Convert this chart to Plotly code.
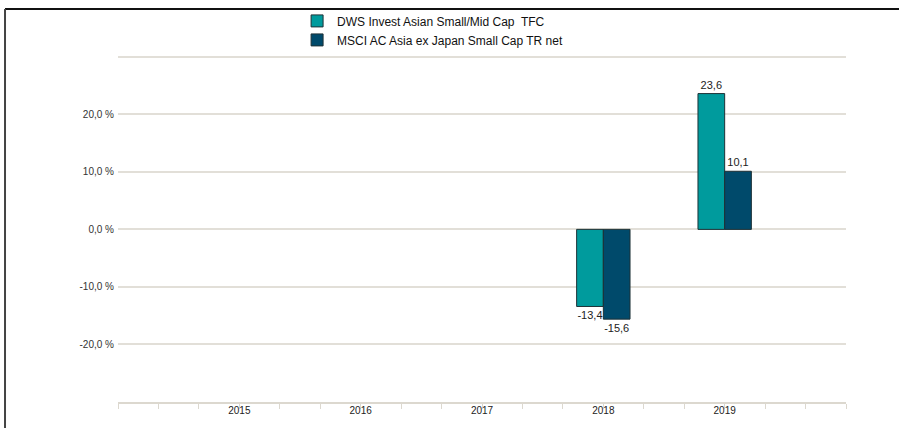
import plotly.graph_objects as go

years = ["2015", "2016", "2017", "2018", "2019"]
year_pos = [0, 1, 2, 3, 4]
series_names = ["DWS Invest Asian Small/Mid Cap  TFC", "MSCI AC Asia ex Japan Small Cap TR net"]
dws_values = [None, None, None, -13.4, 23.6]
msci_values = [None, None, None, -15.6, 10.1]
y_ticks = [-30, -20, -10, 0, 10, 20, 30]
y_ticktext = ["", "-20,0 %", "-10,0 %", "0,0 %", "10,0 %", "20,0 %", ""]

colors = ["#009b9d", "#004a6b"]
outline = "#1e3136"

def fmt(v):
    return "" if v is None else f"{v:.1f}".replace(".", ",")

fig = go.Figure()
for name, vals, col in zip(series_names, [dws_values, msci_values], colors):
    fig.add_trace(go.Bar(
        x=year_pos, y=vals, name=name,
        marker=dict(color=col, line=dict(color=outline, width=1)),
        text=[fmt(v) for v in vals], textposition="outside",
        textfont=dict(family="Liberation Sans, Arial", size=11, color="#222222"),
        cliponaxis=False,
    ))

# plot area: 30 % at y=57, -30 % at y=402 (5.75 px per unit)
fig.update_layout(
    width=899, height=428,
    margin=dict(l=118, r=53, t=51, b=26, autoexpand=False),
    paper_bgcolor="white", plot_bgcolor="white",
    barmode="group", bargap=0.56, bargroupgap=0,
    font=dict(family="Liberation Sans, Arial", size=11, color="#333333"),
    showlegend=True,
    legend=dict(x=0.246, y=0.985, xanchor="left", yanchor="top", yref="container",
                font=dict(size=12, color="#111111"), bgcolor="rgba(0,0,0,0)",
                tracegroupgap=0, itemwidth=30),
    xaxis=dict(range=[-1, 5], tickvals=year_pos, ticktext=years, ticks="",
               showgrid=False, zeroline=False,
               showline=True, linecolor="#dcd8cf", linewidth=2,
               ticklabelstandoff=-2,
               tickfont=dict(size=10, color="#222222"),
               minor=dict(dtick=1/3, tick0=-1, ticks="outside", ticklen=5,
                          tickcolor="#dcd8cf", tickwidth=1, showgrid=False)),
    yaxis=dict(range=[-30, 31], tickvals=y_ticks, ticktext=y_ticktext, ticks="",
               showgrid=True, gridcolor="#e2dfd8", gridwidth=1.5,
               zeroline=True, zerolinecolor="#e2dfd8", zerolinewidth=1.5,
               showline=False, ticklabelstandoff=3,
               tickfont=dict(size=10, color="#333333")),
    shapes=[
        dict(type="line", xref="paper", yref="paper", x0=-0.1552, x1=1.08,
             y0=1.1196, y1=1.1196, line=dict(color="#111111", width=2)),
        dict(type="line", xref="paper", yref="paper", x0=-0.1552, x1=-0.1552,
             y0=1.1196, y1=-0.09, line=dict(color="#444444", width=2)),
    ],
)

fig.write_html("out.html", config={"displayModeBar": False},
               post_script="document.body.style.margin='0';document.body.style.padding='0';")
